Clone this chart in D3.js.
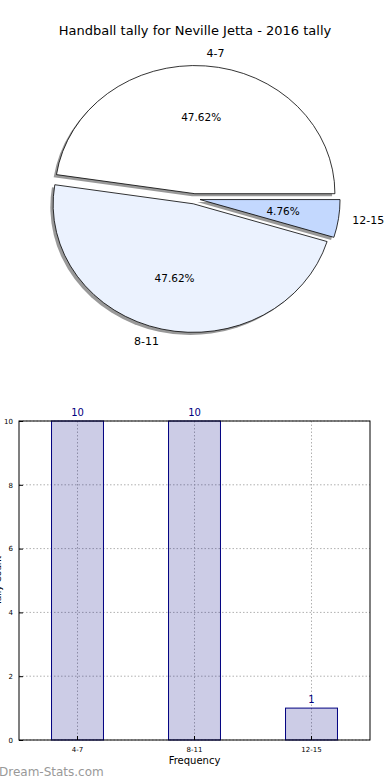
<!DOCTYPE html>
<html><head><meta charset="utf-8">
<script src="https://cdn.jsdelivr.net/npm/d3@7/dist/d3.min.js"></script>
<style>body{margin:0;background:#fff}svg{display:block;font-family:"DejaVu Sans",sans-serif}</style>
</head><body>
<script>
const categories = ["4-7", "8-11", "12-15"];
const values = [10, 10, 1];
const pieColors = ["#ffffff", "#ebf2fe", "#c3d8fe"];
const yTicks = [0, 2, 4, 6, 8, 10];
const title = "Handball tally for Neville Jetta - 2016 tally";
const xLabel = "Frequency";
const yLabel = "Tally Count";
const watermark = "Dream-Stats.com";

const W = 390, H = 780;
const svg = d3.select("body").append("svg").attr("width", W).attr("height", H);

svg.append("text").attr("x", 195).attr("y", 35).attr("text-anchor", "middle")
  .attr("font-size", 13).text(title);

// ---- Pie (elliptical, matplotlib-like) ----
const cx = 194.5, cy = 198.8, rx = 140, ry = 128, explode = 0.04;
const total = d3.sum(values);
const pie = d3.pie().sort(null).startAngle(Math.PI / 2).endAngle(Math.PI / 2 - 2 * Math.PI);
const arcs = pie(values);
const arcGen = d3.arc().innerRadius(0).outerRadius(1);
const mid = a => { const m = (a.startAngle + a.endAngle) / 2; return [Math.sin(m), -Math.cos(m)]; };

const pg = svg.append("g");
arcs.forEach(a => {
  const [ux, uy] = mid(a);
  const ox = cx + explode * rx * ux - 0.02 * rx, oy = cy + explode * ry * uy + 0.02 * ry;
  pg.append("path").attr("d", arcGen(a))
    .attr("transform", `translate(${ox},${oy}) scale(${rx},${ry})`)
    .attr("fill", "#000").attr("fill-opacity", 0.4);
});
arcs.forEach((a, i) => {
  const [ux, uy] = mid(a);
  const ox = cx + explode * rx * ux, oy = cy + explode * ry * uy;
  pg.append("path").attr("d", arcGen(a))
    .attr("transform", `translate(${ox},${oy}) scale(${rx},${ry})`)
    .attr("fill", pieColors[i]).attr("stroke", "#000").attr("stroke-width", 0.8)
    .attr("vector-effect", "non-scaling-stroke").attr("stroke-linejoin", "round");
  const lx = ox + 1.1 * rx * ux, ly = oy + 1.1 * ry * uy;
  pg.append("text").attr("x", lx).attr("y", ly).attr("dy", "0.35em")
    .attr("text-anchor", ux > 0 ? "start" : "end").attr("font-size", 11).text(categories[i]);
  const px = ox + 0.6 * rx * ux, py = oy + 0.6 * ry * uy;
  pg.append("text").attr("x", px).attr("y", py).attr("dy", "0.35em")
    .attr("text-anchor", "middle").attr("font-size", 10.5)
    .text((values[i] / total * 100).toFixed(2) + "%");
});

// ---- Bar chart ----
const L = 19, R = 370, T = 421, B = 740;
const x = d3.scaleBand().domain(categories).range([L, R]).paddingInner(0.556).paddingOuter(0.278);
const y = d3.scaleLinear().domain([0, 10]).range([B, T]);
const bg = svg.append("g");
const gridStyle = s => s.attr("stroke", "#b0b0b0").attr("stroke-width", 1).attr("stroke-dasharray", "1.5,2");
yTicks.forEach(t => gridStyle(bg.append("line").attr("x1", L).attr("x2", R).attr("y1", y(t)).attr("y2", y(t))));
categories.forEach(c => {
  const xc = x(c) + x.bandwidth() / 2;
  gridStyle(bg.append("line").attr("x1", xc).attr("x2", xc).attr("y1", T).attr("y2", B));
});
bg.selectAll("rect.bar").data(values).join("rect").attr("class", "bar")
  .attr("x", (d, i) => x(categories[i])).attr("width", x.bandwidth())
  .attr("y", d => y(d)).attr("height", d => B - y(d))
  .attr("fill", "#000080").attr("fill-opacity", 0.2).attr("stroke", "#000080").attr("stroke-width", 1);
bg.selectAll("text.val").data(values).join("text").attr("class", "val")
  .attr("x", (d, i) => x(categories[i]) + x.bandwidth() / 2).attr("y", d => y(d) - 5)
  .attr("text-anchor", "middle").attr("font-size", 10).attr("fill", "#000080").text(d => d);
bg.append("rect").attr("x", L).attr("y", T).attr("width", R - L).attr("height", B - T)
  .attr("fill", "none").attr("stroke", "#000").attr("stroke-width", 1);

const yAxis = d3.axisLeft(y).tickValues(yTicks).tickSize(-4).tickPadding(6).tickFormat(d3.format("d"));
const ya = bg.append("g").attr("transform", `translate(${L},0)`).call(yAxis);
const xAxis = d3.axisBottom(x).tickSize(-4).tickPadding(7);
const xa = bg.append("g").attr("transform", `translate(0,${B})`).call(xAxis);
[ya, xa].forEach(a => {
  a.select(".domain").remove();
  a.selectAll("text").attr("font-size", 7).attr("font-family", "DejaVu Sans").attr("fill", "#000");
  a.selectAll("line").attr("stroke", "#000");
});
bg.append("text").attr("x", (L + R) / 2).attr("y", 764).attr("text-anchor", "middle")
  .attr("font-size", 10).text(xLabel);
bg.append("text").attr("transform", `translate(1,${(T + B) / 2}) rotate(-90)`)
  .attr("text-anchor", "middle").attr("font-size", 9).text(yLabel);
svg.append("text").attr("x", -1).attr("y", 776).attr("font-size", 12)
  .attr("fill", "#999").text(watermark);
</script>
</body></html>
